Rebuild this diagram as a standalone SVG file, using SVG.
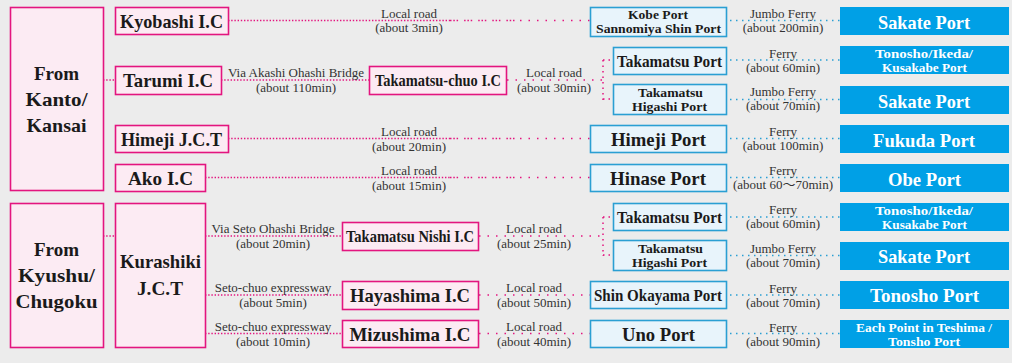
<svg xmlns="http://www.w3.org/2000/svg" width="1012" height="363" viewBox="0 0 1012 363">
<style>
.bg{fill:#ececec}
.pk{fill:#fcebf3;stroke:#e3157f;stroke-width:1.6}
.lb{fill:#e8f4fb;stroke:#2a9fd3;stroke-width:1.6}
.bl{fill:#00a0e6}
.t{font-family:"Liberation Serif","Times New Roman",serif;font-weight:bold;fill:#1a1a1a;text-anchor:middle}
.w{font-family:"Liberation Serif","Times New Roman",serif;font-weight:bold;fill:#ffffff;text-anchor:middle}
.s{font-family:"Liberation Serif","Times New Roman","Noto Sans CJK JP",serif;font-size:13px;fill:#333;text-anchor:middle}
.d{fill:none;stroke:#e3157f;stroke-width:1.5;stroke-dasharray:1.4 1.8}
.sp{fill:none;stroke:#e3157f;stroke-width:1.5;stroke-dasharray:1.5 7}
.g{fill:none;stroke:#e3157f;stroke-width:1.5;stroke-dasharray:1.5 1.8 1.5 1.8 1.5 6}
.f{fill:none;stroke:#2a9fd3;stroke-width:1.5;stroke-dasharray:1.5 4.5}
</style>
<rect class="bg" x="0" y="0" width="1012" height="363"/>
<g id="connectors">
<path class="d" d="M228 20.5H450"/><path class="g" d="M450 20.5H520"/><path class="sp" d="M520 20.5H590"/>
<path class="d" d="M103 80H115"/>
<path class="d" d="M221 80H369"/>
<path class="sp" d="M507 80H603"/>
<path class="sp" d="M603 60H613M603 60V100M603 99H613" style="stroke-dasharray:1.5 4"/>
<path class="d" d="M228 138.5H450"/><path class="g" d="M450 138.5H520"/><path class="sp" d="M520 138.5H590"/>
<path class="d" d="M205 177.5H450"/><path class="g" d="M450 177.5H520"/><path class="sp" d="M520 177.5H590"/>
<path class="d" d="M103 236H115"/>
<path class="d" d="M205 236H342"/>
<path class="sp" d="M479 236H603"/>
<path class="sp" d="M603 217H613M603 217V256M603 255H613" style="stroke-dasharray:1.5 4"/>
<path class="d" d="M205 295H342"/>
<path class="sp" d="M479 295H590"/>
<path class="d" d="M205 333.5H342"/>
<path class="sp" d="M479 333.5H590"/>
<path class="f" d="M730 20.5H840"/>
<path class="f" d="M730 60H840"/>
<path class="f" d="M730 99.5H840"/>
<path class="f" d="M730 138.5H840"/>
<path class="f" d="M730 177.5H840"/>
<path class="f" d="M730 217H840"/>
<path class="f" d="M730 255.5H840"/>
<path class="f" d="M730 295H840"/>
<path class="f" d="M730 333.5H840"/>
</g>
<g id="labels">
<text class="s" x="409" y="18">Local road</text><text class="s" x="409" y="32">(about 3min)</text>
<text class="s" x="296" y="77">Via Akashi Ohashi Bridge</text><text class="s" x="296" y="92">(about 110min)</text>
<text class="s" x="554" y="77">Local road</text><text class="s" x="554" y="92">(about 30min)</text>
<text class="s" x="409" y="136">Local road</text><text class="s" x="409" y="151">(about 20min)</text>
<text class="s" x="409" y="175">Local road</text><text class="s" x="409" y="190">(about 15min)</text>
<text class="s" x="273" y="233">Via Seto Ohashi Bridge</text><text class="s" x="273" y="248">(about 20min)</text>
<text class="s" x="534" y="233">Local road</text><text class="s" x="534" y="248">(about 25min)</text>
<text class="s" x="273" y="292">Seto-chuo expressway</text><text class="s" x="273" y="307">(about 5min)</text>
<text class="s" x="534" y="292">Local road</text><text class="s" x="534" y="307">(about 50min)</text>
<text class="s" x="273" y="331">Seto-chuo expressway</text><text class="s" x="273" y="346">(about 10min)</text>
<text class="s" x="534" y="331">Local road</text><text class="s" x="534" y="346">(about 40min)</text>
<text class="s" x="783" y="18">Jumbo Ferry</text><text class="s" x="783" y="32">(about 200min)</text>
<text class="s" x="783" y="58">Ferry</text><text class="s" x="783" y="72">(about 60min)</text>
<text class="s" x="783" y="96">Jumbo Ferry</text><text class="s" x="783" y="110">(about 70min)</text>
<text class="s" x="783" y="136">Ferry</text><text class="s" x="783" y="150">(about 100min)</text>
<text class="s" x="783" y="175">Ferry</text><text class="s" x="783" y="189">(about 60〜70min)</text>
<text class="s" x="783" y="214">Ferry</text><text class="s" x="783" y="228">(about 60min)</text>
<text class="s" x="783" y="253">Jumbo Ferry</text><text class="s" x="783" y="267">(about 70min)</text>
<text class="s" x="783" y="293">Ferry</text><text class="s" x="783" y="307">(about 70min)</text>
<text class="s" x="783" y="332">Ferry</text><text class="s" x="783" y="346">(about 90min)</text>
</g>
<g id="from-kanto-kansai"><rect class="pk" x="10.5" y="7.5" width="93" height="183"/>
<text class="t" font-size="19" x="56.5" y="80">From</text><text class="t" font-size="19" x="56.5" y="106" textLength="62" lengthAdjust="spacingAndGlyphs">Kanto/</text><text class="t" font-size="19" x="56.5" y="132" textLength="60" lengthAdjust="spacingAndGlyphs">Kansai</text></g>
<g id="from-kyushu-chugoku"><rect class="pk" x="10.5" y="203.5" width="93" height="144"/>
<text class="t" font-size="19" x="56.5" y="256">From</text><text class="t" font-size="19" x="56.5" y="282" textLength="77" lengthAdjust="spacingAndGlyphs">Kyushu/</text><text class="t" font-size="19" x="56.5" y="308" textLength="82" lengthAdjust="spacingAndGlyphs">Chugoku</text></g>
<g id="kyobashi"><rect class="pk" x="115.5" y="7.5" width="113" height="27"/><text class="t" font-size="19" x="171.5" y="28" textLength="103" lengthAdjust="spacingAndGlyphs">Kyobashi I.C</text></g>
<g id="tarumi"><rect class="pk" x="115.5" y="66.5" width="106" height="28"/><text class="t" font-size="19" x="168" y="87" textLength="90" lengthAdjust="spacingAndGlyphs">Tarumi I.C</text></g>
<g id="himeji-jct"><rect class="pk" x="115.5" y="125.5" width="113" height="27"/><text class="t" font-size="19" x="171.5" y="146" textLength="101" lengthAdjust="spacingAndGlyphs">Himeji J.C.T</text></g>
<g id="ako"><rect class="pk" x="115.5" y="164.5" width="90" height="27"/><text class="t" font-size="19" x="160.5" y="185" textLength="65" lengthAdjust="spacingAndGlyphs">Ako I.C</text></g>
<g id="kurashiki"><rect class="pk" x="115.5" y="203.5" width="90" height="144"/><text class="t" font-size="19" x="160.5" y="268" textLength="81" lengthAdjust="spacingAndGlyphs">Kurashiki</text><text class="t" font-size="19" x="160" y="295" textLength="46" lengthAdjust="spacingAndGlyphs">J.C.T</text></g>
<g id="takamatsu-chuo"><rect class="pk" x="369.5" y="66.5" width="137" height="28"/><text class="t" font-size="16" x="438" y="86" textLength="126" lengthAdjust="spacingAndGlyphs">Takamatsu-chuo I.C</text></g>
<g id="takamatsu-nishi"><rect class="pk" x="342.5" y="222.5" width="136" height="28"/><text class="t" font-size="16" x="410" y="242" textLength="128" lengthAdjust="spacingAndGlyphs">Takamatsu Nishi I.C</text></g>
<g id="hayashima"><rect class="pk" x="342.5" y="281.5" width="136" height="28"/><text class="t" font-size="19" x="410" y="302" textLength="120" lengthAdjust="spacingAndGlyphs">Hayashima I.C</text></g>
<g id="mizushima"><rect class="pk" x="342.5" y="320.5" width="136" height="27"/><text class="t" font-size="19" x="410" y="341" textLength="121" lengthAdjust="spacingAndGlyphs">Mizushima I.C</text></g>
<g id="kobe-port"><rect class="lb" x="590.5" y="7.5" width="136" height="29"/><text class="t" font-size="12.5" x="658" y="19.3" textLength="60" lengthAdjust="spacingAndGlyphs">Kobe Port</text><text class="t" font-size="12.5" x="658.5" y="33.1" textLength="125" lengthAdjust="spacingAndGlyphs">Sannomiya Shin Port</text></g>
<g id="takamatsu-port-1"><rect class="lb" x="613.5" y="47.5" width="113" height="27"/><text class="t" font-size="16" x="669.5" y="67" textLength="105" lengthAdjust="spacingAndGlyphs">Takamatsu Port</text></g>
<g id="takamatsu-higashi-1"><rect class="lb" x="613.5" y="84.5" width="113" height="30"/><text class="t" font-size="12.5" x="670.5" y="96.8" textLength="65" lengthAdjust="spacingAndGlyphs">Takamatsu</text><text class="t" font-size="12.5" x="669.5" y="110.6" textLength="75" lengthAdjust="spacingAndGlyphs">Higashi Port</text></g>
<g id="himeji-port"><rect class="lb" x="590.5" y="125.5" width="136" height="27"/><text class="t" font-size="19" x="658.5" y="146" textLength="95" lengthAdjust="spacingAndGlyphs">Himeji Port</text></g>
<g id="hinase-port"><rect class="lb" x="590.5" y="164.5" width="136" height="27"/><text class="t" font-size="19" x="658" y="185" textLength="96" lengthAdjust="spacingAndGlyphs">Hinase Port</text></g>
<g id="takamatsu-port-2"><rect class="lb" x="613.5" y="203.5" width="113" height="27"/><text class="t" font-size="16" x="669.5" y="223" textLength="105" lengthAdjust="spacingAndGlyphs">Takamatsu Port</text></g>
<g id="takamatsu-higashi-2"><rect class="lb" x="613.5" y="240.5" width="113" height="30"/><text class="t" font-size="12.5" x="670.5" y="252.8" textLength="65" lengthAdjust="spacingAndGlyphs">Takamatsu</text><text class="t" font-size="12.5" x="669.5" y="266.6" textLength="75" lengthAdjust="spacingAndGlyphs">Higashi Port</text></g>
<g id="shin-okayama-port"><rect class="lb" x="590.5" y="281.5" width="136" height="27"/><text class="t" font-size="16" x="658" y="301" textLength="128" lengthAdjust="spacingAndGlyphs">Shin Okayama Port</text></g>
<g id="uno-port"><rect class="lb" x="590.5" y="320.5" width="136" height="27"/><text class="t" font-size="19" x="658.5" y="341" textLength="73" lengthAdjust="spacingAndGlyphs">Uno Port</text></g>
<g id="sakate-port-1"><rect class="bl" x="840" y="7" width="169" height="28"/><text class="w" font-size="19" x="924" y="29" textLength="92" lengthAdjust="spacingAndGlyphs">Sakate Port</text></g>
<g id="tonosho-ikeda-kusakabe-1"><rect class="bl" x="840" y="46" width="169" height="28"/><text class="w" font-size="13" x="924" y="58" textLength="98" lengthAdjust="spacingAndGlyphs">Tonosho/Ikeda/</text><text class="w" font-size="13" x="924.5" y="72" textLength="85" lengthAdjust="spacingAndGlyphs">Kusakabe Port</text></g>
<g id="sakate-port-2"><rect class="bl" x="840" y="86" width="169" height="28"/><text class="w" font-size="19" x="924" y="108" textLength="92" lengthAdjust="spacingAndGlyphs">Sakate Port</text></g>
<g id="fukuda-port"><rect class="bl" x="840" y="125" width="169" height="28"/><text class="w" font-size="19" x="924" y="147" textLength="102" lengthAdjust="spacingAndGlyphs">Fukuda Port</text></g>
<g id="obe-port"><rect class="bl" x="840" y="164" width="169" height="28"/><text class="w" font-size="19" x="924.5" y="186" textLength="73" lengthAdjust="spacingAndGlyphs">Obe Port</text></g>
<g id="tonosho-ikeda-kusakabe-2"><rect class="bl" x="840" y="203" width="169" height="28"/><text class="w" font-size="13" x="924" y="215" textLength="98" lengthAdjust="spacingAndGlyphs">Tonosho/Ikeda/</text><text class="w" font-size="13" x="924.5" y="229" textLength="85" lengthAdjust="spacingAndGlyphs">Kusakabe Port</text></g>
<g id="sakate-port-3"><rect class="bl" x="840" y="242" width="169" height="28"/><text class="w" font-size="19" x="924" y="263" textLength="92" lengthAdjust="spacingAndGlyphs">Sakate Port</text></g>
<g id="tonosho-port"><rect class="bl" x="840" y="281" width="169" height="28"/><text class="w" font-size="19" x="924.5" y="302" textLength="109" lengthAdjust="spacingAndGlyphs">Tonosho Port</text></g>
<g id="each-point-teshima"><rect class="bl" x="840" y="320" width="169" height="28"/><text class="w" font-size="12.5" x="924" y="332" textLength="136" lengthAdjust="spacingAndGlyphs">Each Point in Teshima /</text><text class="w" font-size="12.5" x="924" y="345.5" textLength="72" lengthAdjust="spacingAndGlyphs">Tonsho Port</text></g>
</svg>
